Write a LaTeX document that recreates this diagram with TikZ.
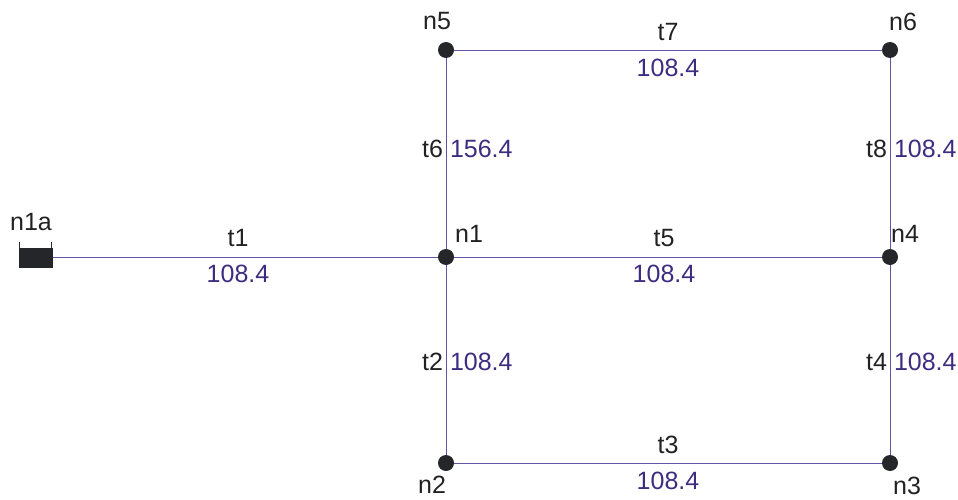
\documentclass[tikz,border=0pt]{standalone}
\usepackage{fontspec}
\setmainfont{Liberation Sans}
\definecolor{edgec}{RGB}{100,82,166}
\definecolor{valc}{RGB}{62,44,128}
\definecolor{labc}{RGB}{34,34,34}
\definecolor{dotc}{RGB}{36,38,42}
\begin{document}
\begin{tikzpicture}[x=1pt,y=-1pt,
  every node/.style={inner sep=0pt,outer sep=0pt},
  dot/.style={circle,fill=dotc,minimum size=16pt},
  term/.style={rectangle,fill=dotc,minimum width=34pt,minimum height=20pt},
  pipe/.style={draw=edgec,line width=0.9pt},
  lab/.style={text=labc,font=\fontsize{25}{29}\selectfont},
  val/.style={text=valc,font=\fontsize{25}{29}\selectfont}]
\useasboundingbox (0,0) rectangle (958,500);
% nodes
\node[term] (n1a) at (36,257.5) {};
\node[dot] (n1) at (446,257) {};
\node[dot] (n2) at (446,463) {};
\node[dot] (n3) at (890,463) {};
\node[dot] (n4) at (890,257) {};
\node[dot] (n5) at (446,50) {};
\node[dot] (n6) at (890,50) {};
% pipes
\draw[pipe] (n1a.east |- n1) -- (n1);
\draw[pipe] (n1) -- (n2);
\draw[pipe] (n2) -- (n3);
\draw[pipe] (n3) -- (n4);
\draw[pipe] (n1) -- (n4);
\draw[pipe] (n1) -- (n5);
\draw[pipe] (n5) -- (n6);
\draw[pipe] (n6) -- (n4);
% terminal ticks
\draw[draw=dotc,line width=1pt] ([xshift=0.5pt]n1a.north west) -- ++(0,-6);
\draw[draw=dotc,line width=1pt] ([xshift=-2pt]n1a.north east) -- ++(0,-6);
% node labels
\node[lab] (ln1a) at (31,222) {n1a};
\node[lab] (ln1) at (469,234) {n1};
\node[lab] (ln2) at (432,485) {n2};
\node[lab] (ln3) at (907,486) {n3};
\node[lab] (ln4) at (905,234) {n4};
\node[lab] (ln5) at (437,21) {n5};
\node[lab] (ln6) at (903,22) {n6};
% horizontal pipe labels
\node[lab,anchor=south] (t1) at (238,247) {t1};
\node[val,anchor=north] (v1) at (238,265) {108.4};
\node[lab,anchor=south] (t5) at (664,247) {t5};
\node[val,anchor=north] (v5) at (664,265) {108.4};
\node[lab,anchor=south] (t7) at (668,41) {t7};
\node[val,anchor=north] (v7) at (668,59) {108.4};
\node[lab,anchor=south] (t3) at (668,454) {t3};
\node[val,anchor=north] (v3) at (668,472) {108.4};
% vertical pipe labels
\node[lab,anchor=east] (t6) at (443,149) {t6};
\node[val,anchor=west] (v6) at (450,149) {156.4};
\node[lab,anchor=east] (t8) at (887,149) {t8};
\node[val,anchor=west] (v8) at (894,149) {108.4};
\node[lab,anchor=east] (t2) at (443,362) {t2};
\node[val,anchor=west] (v2) at (450,362) {108.4};
\node[lab,anchor=east] (t4) at (887,362) {t4};
\node[val,anchor=west] (v4) at (894,362) {108.4};
\end{tikzpicture}
\end{document}
